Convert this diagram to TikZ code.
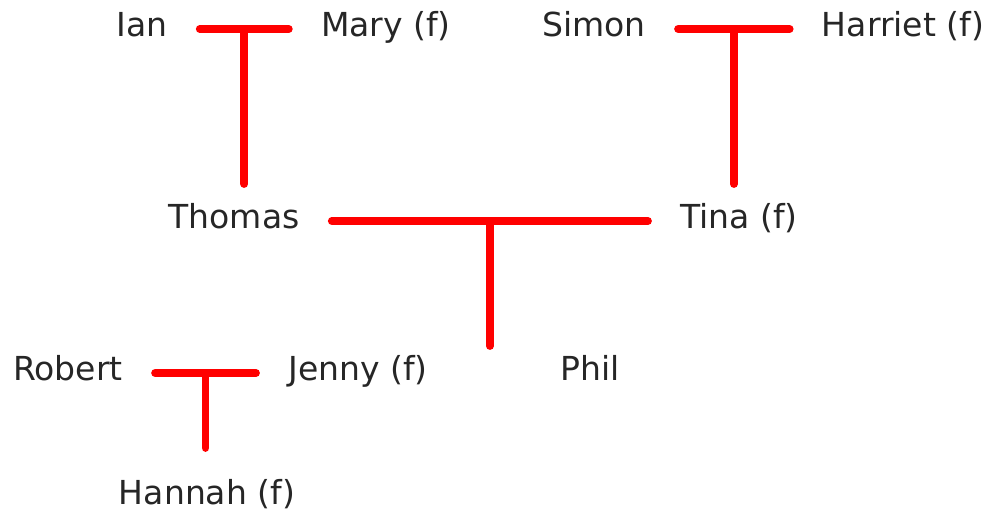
\documentclass[tikz,border=0pt]{standalone}
\usepackage{fontspec}
\setmainfont{DejaVu Sans}
\usepackage{tikz}

\begin{document}
\begin{tikzpicture}[
    person/.style={font=\fontsize{18.8}{22}\selectfont, text=black!85, inner xsep=0.64cm, inner ysep=0.4cm, text height=13.5pt, text depth=5.5pt},
    tie/.style={red, line width=4.5pt, line cap=round}]
    \useasboundingbox (0,0) rectangle (19.86,10.24);
    % grandparents
    \node[person] (ian) at (2.84,9.66) {Ian};
    \node[person] (mary) at (7.72,9.66) {Mary (f)};
    \node[person] (simon) at (11.88,9.66) {Simon};
    \node[person] (harriet) at (18.06,9.66) {Harriet (f)};
    % parents
    \node[person] (thomas) at (4.68,5.82) {Thomas};
    \node[person] (tina) at (14.78,5.82) {Tina (f)};
    % children
    \node[person] (robert) at (1.36,2.78) {Robert};
    \node[person] (jenny) at (7.16,2.78) {Jenny (f)};
    \node[person] (phil) at (11.8,2.78) {Phil};
    \node[person] (hannah) at (4.14,0.30) {Hannah (f)};
    % marriages and descent
    \draw[tie] (ian) -- (mary) coordinate[midway] (im);
    \draw[tie] (im) -- (im |- thomas.north);
    \draw[tie] (simon) -- (harriet) coordinate[midway] (sh);
    \draw[tie] (sh) -- (sh |- tina.north);
    \draw[tie] (thomas) -- (tina) coordinate[midway] (tt);
    \draw[tie, shorten >=-0.2cm] (tt) -- (tt |- phil.north);
    \draw[tie] (robert) -- (jenny) coordinate[midway] (rj);
    \draw[tie, shorten >=0.24cm] (rj) -- (rj |- hannah.north);
\end{tikzpicture}
\end{document}
